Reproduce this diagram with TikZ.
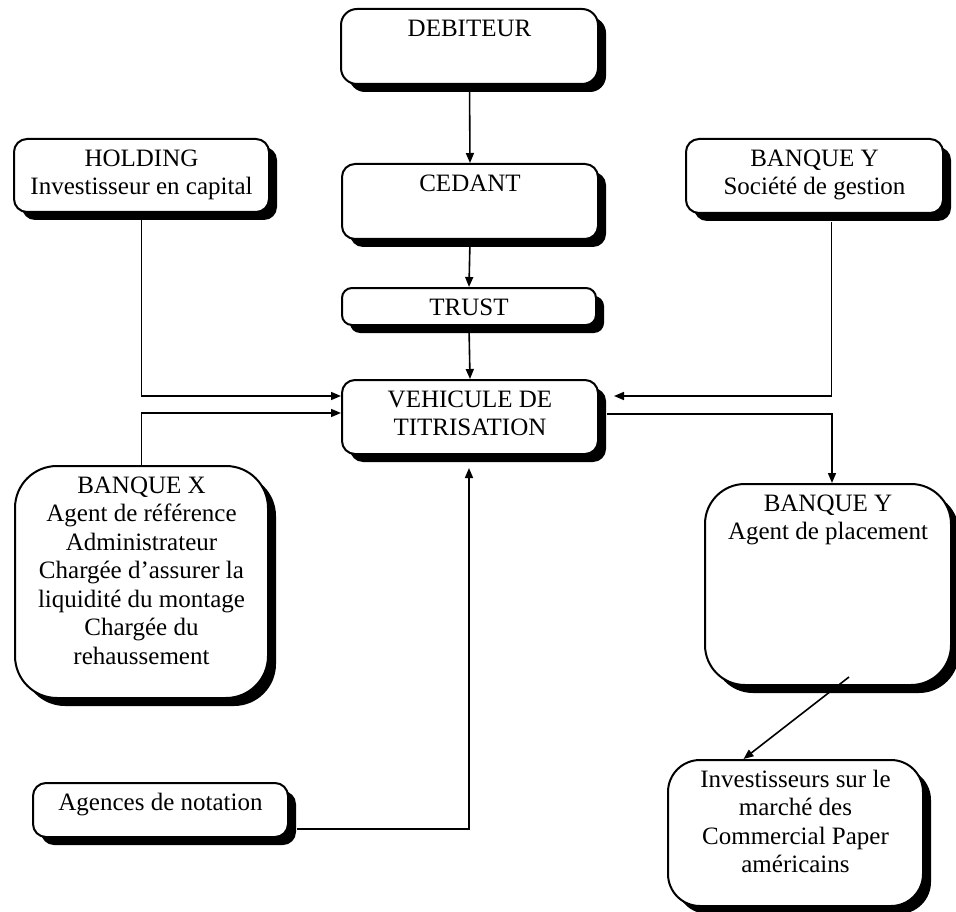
\documentclass[tikz,border=0pt]{standalone}
\usepackage{fontspec}
\setmainfont{Liberation Serif}
\usetikzlibrary{arrows.meta,shadows,calc}
% top-aligned, centred text block of given width and height
\newcommand{\cardtext}[3]{\parbox[c][#2][t]{#1}{\centering\strut #3}}
\begin{document}
\begin{tikzpicture}[x=1pt,y=-1pt,
  card/.style={draw=black, line width=2pt, fill=white, rounded corners=13pt,
    anchor=north west, inner xsep=4pt, inner ysep=7.5pt,
    font=\fontsize{25pt}{28.5pt}\selectfont,
    drop shadow={shadow xshift=8pt, shadow yshift=-8pt, opacity=1, fill=black}},
  bigcard/.style={card, rounded corners=40pt},
  flow/.style={draw=black, line width=1.6pt, -{Triangle[length=10pt,width=8pt]}}]
\useasboundingbox (0,0) rectangle (956,912);

% central chain
\node[card, rounded corners=16pt] (deb) at (340,8) {\cardtext{249pt}{60pt}{DEBITEUR}};
\node[card] (ced) at (341,163) {\cardtext{248pt}{60pt}{CEDANT}};
\node[card, rounded corners=10pt] (trust) at (341,287) {\cardtext{246pt}{22pt}{TRUST}};
\node[card] (veh) at (341,379) {\cardtext{248pt}{59pt}{VEHICULE DE\\TITRISATION}};

% parties around the vehicle
\node[card] (hold) at (13,138) {\cardtext{247pt}{58pt}{HOLDING\\Investisseur en capital}};
\node[card] (bqyg) at (685,138) {\cardtext{249pt}{59pt}{BANQUE Y\\Société de gestion}};
\node[bigcard, rounded corners=42pt] (bqx) at (14,465) {\cardtext{245pt}{217pt}{BANQUE X\\Agent de référence\\Administrateur\\Chargée d’assurer la\\liquidité du montage\\Chargée du\\rehaussement}};
\node[bigcard] (bqya) at (704,483) {\cardtext{238pt}{186pt}{BANQUE Y\\Agent de placement}};
\node[bigcard, rounded corners=32pt] (inv) at (667,759) {\cardtext{247pt}{131pt}{Investisseurs sur le\\marché des\\Commercial Paper\\américains}};
\node[card] (agn) at (32,782) {\cardtext{247pt}{39pt}{Agences de notation}};

% connectors
\draw[flow] (deb.south) -- (ced.north);
\draw[flow] (ced.south) -- (trust.north);
\draw[flow] (trust.south) -- (veh.north);
\draw[flow] (hold.south) |- ($(veh.west)+(0,-21)$);
\draw[flow] (bqx.north) |- ($(veh.west)+(0,-4)$);
\draw[flow] ($(bqyg.south)+(17,8)$) |- ($(veh.east)+(15,-21)$);
\draw[flow] ($(veh.east)+(8,-3)$) -| ($(bqya.north)+(4,0)$);
\draw[flow] ($(bqya.south)+(21,-9)$) -- ($(inv.north)+(-52,0)$);
\draw[flow] ($(agn.east)+(8,19)$) -| ($(veh.south)+(-1,13)$);
\end{tikzpicture}
\end{document}
